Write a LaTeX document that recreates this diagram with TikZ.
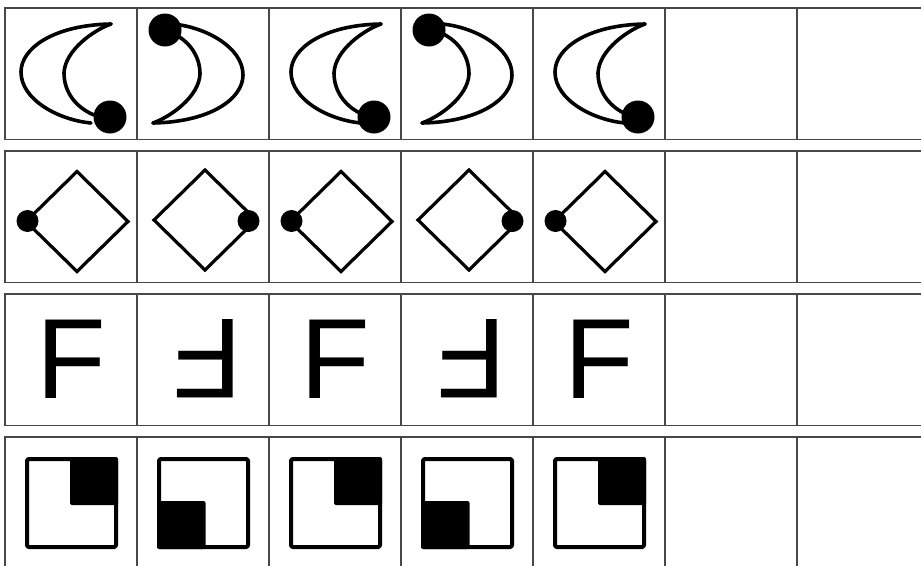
\documentclass[tikz,border=0pt]{standalone}
\usepackage{fontspec}
\newfontfamily\Fglyphfont{Liberation Sans}
\newcommand\crescentcell[3]{%
 \begin{scope}[shift={(#1+66.5,73.5)}]
  \begin{scope}[xshift=#3pt, rotate=#2]
   \draw[cres] (45.5,-49.5) .. controls (-11.5,-48.5) and (-44.5,-25.5) .. (-44.5,-1.5) .. controls (-44.5,26.5) and (-6.5,46.5) .. (25.5,49.5);
   \draw[cres] (45.5,-49.5) .. controls (28.5,-43.5) and (-0.5,-23.5) .. (-1.5,-0.5) .. controls (-1.5,19.5) and (11.5,34.5) .. (28.5,41.5);
  \end{scope}
  \fill[rotate=#2] (38.5,43.5) circle (16.5);
 \end{scope}}
\newcommand\diamondcell[4]{%
 \draw[dia] (#1+#2,#3-50) -- (#1+#2+51,#3) -- (#1+#2,#3+50) -- (#1+#2-51,#3) -- cycle;
 \fill (#1+#4,221) circle (11);}
\newcommand\squarecellA[1]{%
 \fill[rounded corners=2pt] (#1+65,457) rectangle (#1+113,505);
 \draw[sq] (#1+22,459) rectangle (#1+111,547);}
\newcommand\squarecellB[1]{%
 \fill[rounded corners=2pt] (#1+20,501) rectangle (#1+68.5,549);
 \draw[sq] (#1+22,459) rectangle (#1+111,547);}
\begin{document}
\begin{tikzpicture}[x=1pt,y=-1pt,
  grid/.style={draw=black!72, line width=1.1pt},
  cres/.style={line width=3.6pt, line join=round, line cap=round},
  dia/.style={line width=3.2pt, line join=miter},
  sq/.style={line width=4pt, line join=round, rounded corners=1.5pt},
  ftext/.style={inner sep=0pt, font=\Fglyphfont\fontsize{114}{114}\selectfont}]
\useasboundingbox (0,0) rectangle (921,565);
\fill[white] (0,0) rectangle (921,565);
\clip (0,0) rectangle (921,565);
% grid
\foreach \r in {0,1,2,3}{
 \foreach \c in {0,...,6}{
  \draw[grid] (5+132*\c, 8+143*\r) rectangle ++(132,131.5);
 }}
% row 1: crescents
\crescentcell{5}{0}{-6}
\crescentcell{137}{180}{-5}
\crescentcell{269}{0}{0}
\crescentcell{401}{180}{0}
\crescentcell{533}{0}{0}
% row 2: diamonds
\diamondcell{5}{72}{221.5}{22.5}
\diamondcell{137}{68}{220}{111.5}
\diamondcell{269}{72}{221.5}{22.5}
\diamondcell{401}{68}{220}{111.5}
\diamondcell{533}{72}{221.5}{22.5}
% row 3: letters
\node[ftext] (f1) at (5+66,359) {F};
\node[ftext, rotate=180] (f2) at (137+71,358.5) {F};
\node[ftext] (f3) at (269+66,359) {F};
\node[ftext, rotate=180] (f4) at (401+71,358.5) {F};
\node[ftext] (f5) at (533+66,359) {F};
% row 4: squares
\squarecellA{5}
\squarecellB{137}
\squarecellA{269}
\squarecellB{401}
\squarecellA{533}
\end{tikzpicture}
\end{document}
